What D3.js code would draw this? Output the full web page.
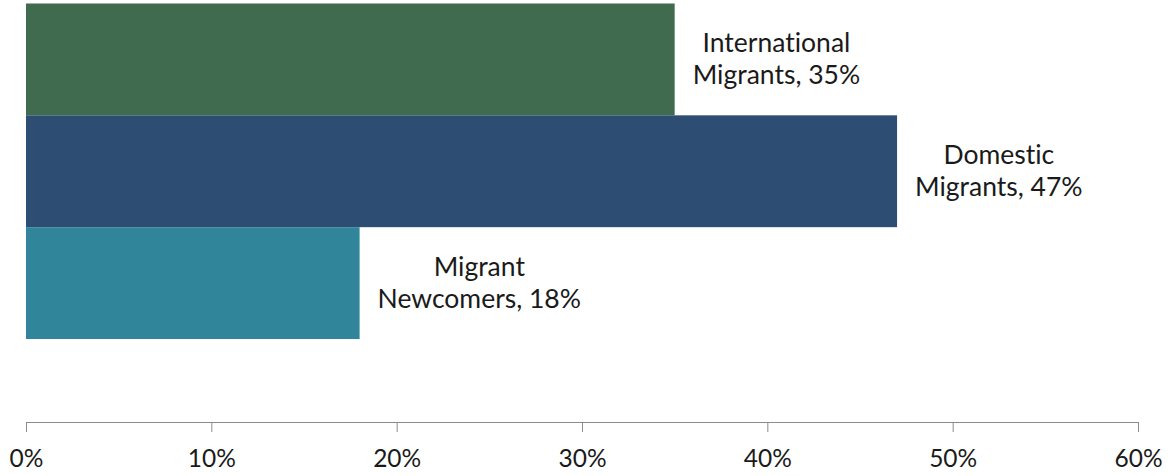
<!DOCTYPE html>
<html><head><meta charset="utf-8">
<script src="https://cdn.jsdelivr.net/npm/d3@7"></script>
<style>body{margin:0;background:#fff}svg{display:block}text{font-variant-ligatures:none}</style>
</head><body>
<svg id="c" width="1170" height="476"></svg>
<script>
const categories = ["International Migrants", "Domestic Migrants", "Migrant Newcomers"];
const labelLines = [["International", "Migrants, 35%"], ["Domestic", "Migrants, 47%"], ["Migrant", "Newcomers, 18%"]];
const values = [35, 47, 18];
const colors = ["#416B4F", "#2E4D73", "#31859B"];
const tickValues = [0, 10, 20, 30, 40, 50, 60];

const font = "Lato, 'Open Sans', sans-serif";
const svg = d3.select("#c");
const x = d3.scaleLinear().domain([0, 60]).range([26, 1138]);
const y = d3.scaleBand().domain(categories).range([3.5, 339]).padding(0);

svg.selectAll("rect.bar").data(categories).join("rect")
  .attr("class", "bar")
  .attr("x", x(0)).attr("y", d => y(d))
  .attr("width", (d, i) => x(values[i]) - x(0))
  .attr("height", y.bandwidth())
  .attr("fill", (d, i) => colors[i]);

const ax = svg.append("g").attr("transform", "translate(0,422)")
  .call(d3.axisBottom(x).tickValues(tickValues).tickFormat(d => d + "%").tickSize(10).tickSizeOuter(0).tickPadding(18));
ax.select(".domain").attr("stroke", "#8c8c8c");
ax.selectAll(".tick line").attr("stroke", "#8c8c8c");
ax.selectAll(".tick text").attr("font-family", font).attr("font-size", 24.5).attr("fill", "#1a1a1a");

categories.forEach((c, i) => {
  const g = svg.append("g");
  const cy = y(c) + y.bandwidth() / 2;
  const t = g.append("text").attr("font-family", font).attr("font-size", 26.5).attr("fill", "#1a1a1a").attr("text-anchor", "middle");
  labelLines[i].forEach((ln, j) => {
    t.append("tspan").attr("x", 0).attr("y", cy - 7 + j * 32).text(ln);
  });
  let maxW = 0;
  t.selectAll("tspan").each(function () { maxW = Math.max(maxW, this.getComputedTextLength()); });
  const cx = x(values[i]) + 18 + maxW / 2;
  t.selectAll("tspan").attr("x", cx);
});
</script>
</body></html>
